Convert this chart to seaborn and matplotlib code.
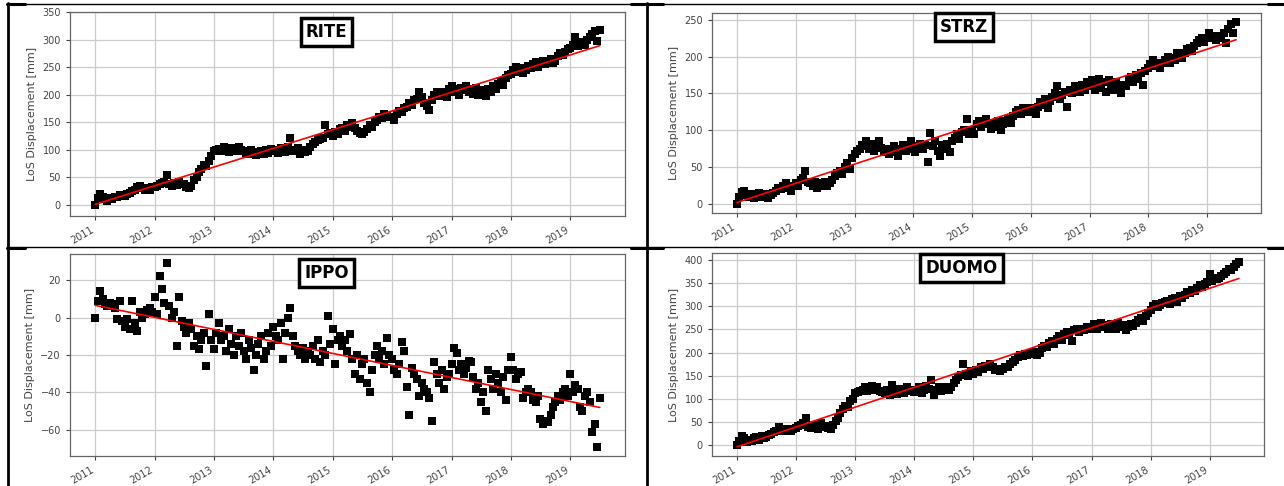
import numpy as np
import pandas as pd
import matplotlib
matplotlib.use("Agg")
import matplotlib.pyplot as plt
import matplotlib.dates as mdates
from matplotlib.lines import Line2D
import seaborn as sns

# ---------------- data (semi-monthly samples) ----------------
start_date = "2011-01-01"
end_date = "2019-07-01"

rite = [
    0, 12, 20, 15, 10, 8, 12, 10, 14, 15, 18, 16, 17, 20, 22, 25, 28, 32, 35, 30, 27, 30, 28, 32,
    33, 35, 38, 40, 42, 55, 38, 35, 40, 36, 42, 38, 38, 33, 30, 35, 45, 50, 60, 65, 72, 70, 80, 88,
    98, 100, 102, 98, 105, 100, 96, 103, 100, 98, 105, 100, 97, 95, 92, 100, 94, 90, 96, 98, 92, 100, 95, 102,
    98, 100, 95, 104, 100, 96, 105, 122, 98, 100, 104, 92, 100, 96, 98, 105, 110, 115, 118, 120, 122, 145, 128, 130,
    125, 132, 128, 138, 140, 135, 145, 142, 148, 140, 135, 130, 128, 132, 138, 145, 142, 150, 155, 160, 158, 165, 162, 160,
    160, 155, 165, 170, 168, 175, 178, 185, 182, 190, 192, 205, 195, 185, 180, 172, 190, 200, 205, 198, 205, 200, 195, 210,
    215, 205, 210, 200, 212, 208, 215, 205, 210, 202, 212, 200, 208, 205, 198, 210, 205, 215, 210, 220, 225, 218, 230, 235,
    238, 245, 250, 242, 248, 240, 245, 252, 248, 255, 260, 250, 258, 262, 255, 260, 265, 258, 262, 270, 275, 272, 278, 282,
    285, 290, 305, 288, 292, 295, 290, 300, 305, 310, 315, 298, 318,
]
strz = [
    0, 10, 16, 18, 12, 10, 14, 8, 12, 15, 10, 12, 14, 8, 12, 15, 18, 22, 20, 25, 28, 22, 18, 25,
    28, 25, 32, 35, 45, 30, 28, 25, 30, 22, 28, 25, 30, 25, 28, 32, 38, 42, 45, 40, 50, 55, 48, 62,
    68, 72, 75, 80, 78, 85, 75, 82, 72, 78, 85, 76, 70, 75, 68, 72, 78, 70, 65, 74, 80, 72, 78, 85,
    75, 70, 78, 82, 75, 80, 57, 96, 78, 85, 72, 65, 80, 75, 82, 70, 85, 90, 95, 88, 98, 100, 115, 95,
    100, 95, 108, 112, 105, 110, 115, 108, 102, 110, 105, 112, 100, 108, 112, 115, 110, 120, 125, 128, 122, 130, 125, 128,
    130, 125, 122, 132, 138, 135, 142, 130, 140, 145, 150, 160, 142, 148, 152, 132, 155, 150, 160, 158, 152, 162, 155, 165,
    160, 168, 155, 162, 170, 158, 165, 152, 168, 160, 155, 165, 158, 150, 162, 160, 168, 172, 165, 175, 170, 178, 162, 180,
    185, 190, 195, 188, 192, 185, 192, 195, 200, 192, 198, 195, 205, 200, 198, 205, 210, 212, 208, 215, 218, 222, 225, 220,
    225, 232, 228, 225, 222, 228, 225, 232, 218, 238, 245, 232, 247,
]
ippo = [
    0, 9, 14, 10, 7, 6, 8, 7, 5, -1, 9, -2, -5, -1, -6, 9, -3, -7, 3, 0, 2, 4, 5, 3,
    11, 2, 22, 15, 8, 29, 6, 0, 3, -15, 11, -2, -5, -8, -3, -6, -15, -10, -17, -12, -8, -26, 2, -12,
    -17, -8, -3, -12, -10, -18, -6, -14, -20, -10, -15, -8, -18, -22, -12, -16, -28, -20, -14, -10, -22, -18, -8, -15,
    -5, -10, -12, -3, -22, -8, 0, 5, -10, -15, -18, -20, -16, -22, -18, -20, -15, -22, -12, -24, -18, -20, 1, -14,
    -6, -25, -12, -10, -15, -12, -18, -9, -22, -30, -20, -33, -25, -22, -35, -40, -28, -20, -15, -22, -18, -25, -11, -20,
    -22, -28, -30, -25, -13, -18, -37, -52, -27, -30, -33, -42, -35, -38, -40, -43, -55, -24, -30, -35, -28, -38, -32, -30,
    -25, -16, -19, -28, -25, -30, -27, -23, -24, -32, -38, -35, -45, -40, -50, -28, -33, -38, -30, -35, -40, -32, -44, -28,
    -21, -28, -33, -30, -29, -43, -40, -38, -40, -44, -45, -42, -54, -57, -55, -56, -52, -48, -45, -42, -44, -40, -38, -42,
    -30, -40, -36, -38, -48, -50, -42, -40, -45, -61, -57, -69, -43,
]
duomo = [
    0, 10, 20, 15, 8, 12, 10, 15, 18, 12, 20, 15, 18, 22, 25, 28, 32, 40, 35, 30, 33, 35, 32, 36,
    38, 42, 45, 48, 60, 40, 38, 45, 42, 36, 48, 40, 42, 38, 35, 45, 52, 60, 70, 78, 85, 82, 95, 100,
    112, 115, 118, 120, 125, 118, 122, 128, 120, 125, 118, 115, 112, 120, 108, 130, 115, 110, 122, 118, 112, 125, 118, 120,
    115, 118, 125, 112, 120, 128, 122, 142, 108, 120, 125, 118, 122, 125, 120, 125, 135, 140, 148, 152, 175, 155, 150, 160,
    155, 162, 158, 168, 165, 172, 170, 175, 168, 162, 165, 160, 165, 170, 168, 175, 180, 185, 190, 195, 192, 198, 195, 200,
    198, 202, 195, 200, 210, 215, 212, 220, 225, 218, 230, 235, 228, 240, 245, 238, 225, 248, 250, 245, 252, 248, 255, 250,
    255, 262, 250, 258, 265, 255, 260, 252, 262, 258, 250, 265, 255, 260, 248, 255, 262, 258, 265, 270, 275, 268, 280, 285,
    292, 300, 305, 298, 302, 308, 310, 312, 305, 315, 318, 310, 322, 318, 325, 330, 328, 335, 332, 340, 345, 342, 348, 352,
    370, 355, 360, 358, 362, 365, 370, 375, 380, 378, 385, 392, 395,
]

# linear trend end values (start, end)
rite_trend = [1, 289]
strz_trend = [2, 223]
ippo_trend = [6.5, -48]
duomo_trend = [-3, 360]

names = ["RITE", "STRZ", "IPPO", "DUOMO"]
ylabel = "LoS Displacement [mm]"

# ---------------- figure ----------------
sns.set_theme(style="ticks")
plt.rcParams["font.family"] = ["DejaVu Sans"]

W, H = 1284, 486
fig = plt.figure(figsize=(W / 100, H / 100), dpi=100)

def px_rect(l, t, r, b):
    return [l / W, 1 - b / H, (r - l) / W, (b - t) / H]

rects = [px_rect(70, 12, 625, 216), px_rect(712, 13, 1261, 213),
         px_rect(70, 254, 625, 456), px_rect(712, 253, 1264, 456)]
series = [rite, strz, ippo, duomo]
trends = [rite_trend, strz_trend, ippo_trend, duomo_trend]
ylims = [(-20, 350), None, None, None]
label_pos = [(0.462, 0.90), (0.459, 0.93), (0.462, 0.905), (0.452, 0.925)]

dates = pd.date_range(start_date, periods=len(rite), freq="SMS")
trend_x = pd.to_datetime([start_date, end_date])

for rect, vals, tr, name, yl, lp in zip(rects, series, trends, names, ylims, label_pos):
    ax = fig.add_axes(rect)
    df = pd.DataFrame({"date": dates, "disp": vals})
    sns.scatterplot(data=df, x="date", y="disp", marker="s", color="black",
                    s=28, linewidth=0, ax=ax, zorder=3)
    sns.lineplot(x=trend_x, y=tr, color="red", linewidth=1.2, ax=ax, zorder=4)
    if yl is not None:
        ax.set_ylim(*yl)
    ax.xaxis.set_major_locator(mdates.YearLocator())
    ax.xaxis.set_major_formatter(mdates.DateFormatter("%Y"))
    for lab in ax.get_xticklabels():
        lab.set_rotation(30)
        lab.set_ha("right")
    ax.tick_params(labelsize=7, colors="#444444", length=3, width=0.8)
    ax.grid(True, color="#cccccc", linewidth=0.9)
    ax.set_axisbelow(True)
    for sp in ax.spines.values():
        sp.set_color("#666666")
        sp.set_linewidth(0.9)
    ax.set_xlabel("")
    ax.set_ylabel(ylabel, fontsize=8, color="#444444")
    ax.text(lp[0], lp[1], name, transform=ax.transAxes, ha="center", va="center",
            fontsize=12, fontweight="bold", color="black", zorder=6,
            bbox=dict(boxstyle="square,pad=0.3", fc="white", ec="black", lw=2.5))

# ---------------- table borders ----------------
def hline(y, x0, x1, lw):
    fig.add_artist(Line2D([x0 / W, x1 / W], [1 - y / H, 1 - y / H], color="black", lw=lw))

def vline(x, y0, y1, lw):
    fig.add_artist(Line2D([x / W, x / W], [1 - y0 / H, 1 - y1 / H], color="black", lw=lw))

hline(4, 7, 1284, 1.0)
hline(247, 7, 1284, 1.0)
for yy in (4, 247.5):
    hline(yy, 7, 25, 2.2)
    hline(yy, 631, 663, 2.2)
    hline(yy, 1268, 1284, 2.2)
vline(8, 3, 486, 2.0)
vline(647, 3, 486, 2.0)

fig.savefig("out.png", dpi=100)
